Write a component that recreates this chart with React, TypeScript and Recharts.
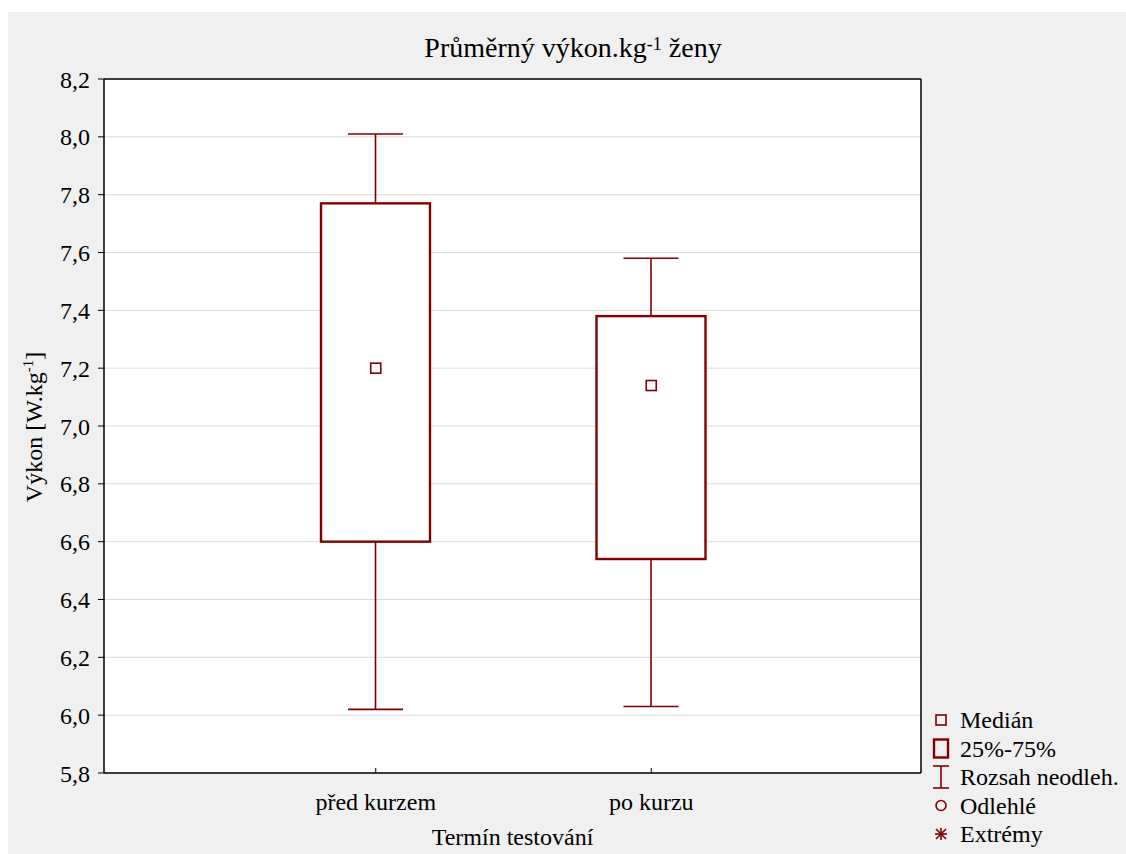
import React from 'react';
import { ComposedChart, Bar, Scatter, XAxis, YAxis, CartesianGrid } from 'recharts';

// Box plot data (per test term)
const terms = ['před kurzem', 'po kurzu'];
const mins = [6.02, 6.03];
const q1s = [6.6, 6.54];
const medians = [7.2, 7.14];
const q3s = [7.77, 7.38];
const maxs = [8.01, 7.58];

const yTicks = [5.8, 6.0, 6.2, 6.4, 6.6, 6.8, 7.0, 7.2, 7.4, 7.6, 7.8, 8.0, 8.2];
const legendLabels = ['Medián', '25%-75%', 'Rozsah neodleh.', 'Odlehlé', 'Extrémy'];

const RED = '#800000';
const FONT = '"Liberation Serif", "Times New Roman", serif';

const data = terms.map((term, i) => ({
  term,
  range: [mins[i], maxs[i]],
  box: [q1s[i], q3s[i]],
  median: medians[i],
}));

const fmt = (v: number) => v.toFixed(1).replace('.', ',');

// whisker: vertical line with caps at min and max
const Whisker = (props: any) => {
  const { x, y, width, height } = props;
  const top = Math.min(y, y + height);
  const bottom = Math.max(y, y + height);
  const cx = x + width / 2;
  return (
    <g stroke={RED} strokeWidth={1.6}>
      <line x1={cx} x2={cx} y1={top} y2={bottom} />
      <line x1={x} x2={x + width} y1={top} y2={top} />
      <line x1={x} x2={x + width} y1={bottom} y2={bottom} />
    </g>
  );
};

const Box = (props: any) => {
  const { x, y, width, height } = props;
  return (
    <rect
      x={x}
      y={Math.min(y, y + height)}
      width={width}
      height={Math.abs(height)}
      fill="#fff"
      stroke={RED}
      strokeWidth={2.4}
    />
  );
};

const MedianMark = (props: any) => {
  const { cx, cy } = props;
  return <rect x={cx - 5} y={cy - 5} width={10} height={10} fill="#fff" stroke={RED} strokeWidth={1.6} />;
};

const LegendIcon = ({ kind, cx, cy }: { kind: number; cx: number; cy: number }) => {
  if (kind === 0) return <rect x={cx - 5} y={cy - 5} width={10} height={10} fill="none" stroke={RED} strokeWidth={1.6} />;
  if (kind === 1) return <rect x={cx - 7} y={cy - 9} width={14} height={18} fill="none" stroke={RED} strokeWidth={2.4} />;
  if (kind === 2)
    return (
      <g stroke={RED} strokeWidth={1.6}>
        <line x1={cx} x2={cx} y1={cy - 11} y2={cy + 11} />
        <line x1={cx - 8} x2={cx + 8} y1={cy - 11} y2={cy - 11} />
        <line x1={cx - 8} x2={cx + 8} y1={cy + 11} y2={cy + 11} />
      </g>
    );
  if (kind === 3) return <circle cx={cx} cy={cy} r={5} fill="none" stroke={RED} strokeWidth={1.6} />;
  return (
    <g stroke={RED} strokeWidth={1.6}>
      <line x1={cx} x2={cx} y1={cy - 6} y2={cy + 6} />
      <line x1={cx - 6} x2={cx + 6} y1={cy} y2={cy} />
      <line x1={cx - 5} x2={cx + 5} y1={cy - 5} y2={cy + 5} />
      <line x1={cx - 5} x2={cx + 5} y1={cy + 5} y2={cy - 5} />
    </g>
  );
};

export default function App() {
  return (
    <div style={{ position: 'relative', width: 1126, height: 854, background: '#fff', fontFamily: FONT }}>
      <style>{'body{margin:0}'}</style>
      <div style={{ position: 'absolute', left: 8, top: 12, width: 1118, height: 842, background: '#f0f0f0' }}>
        <div
          style={{
            position: 'absolute',
            left: 0,
            width: 1130,
            top: 20,
            textAlign: 'center',
            fontSize: 28,
            color: '#000',
            lineHeight: '32px',
          }}
        >
          Průměrný výkon.kg<sup style={{ fontSize: 18, verticalAlign: 'top', position: 'relative', top: -4 }}>-1</sup> ženy
        </div>
        <ComposedChart
          width={1118}
          height={842}
          data={data}
          margin={{ top: 66, right: 205, bottom: 0, left: 0 }}
          style={{ fontFamily: FONT }}
        >
          <CartesianGrid
            xAxisId="main"
            yAxisId="left"
            vertical={false}
            stroke="#dcdcdc"
            fill="#fff"
            fillOpacity={1}
          />
          <XAxis
            xAxisId="main"
            dataKey="term"
            padding={{ left: 134, right: 132 }}
            height={81}
            axisLine={{ stroke: '#000', strokeWidth: 1.5 }}
            tickLine={{ stroke: '#000' }}
            tickSize={-5}
            tickMargin={25}
            tick={{ fill: '#000', fontSize: 24, fontFamily: FONT }}
            label={{
              content: (p: any) => {
                const vb = p.viewBox || {};
                return (
                  <text x={vb.x + vb.width / 2} y={vb.y + 72} textAnchor="middle" fontSize={24} fill="#000" fontFamily={FONT}>
                    Termín testování
                  </text>
                );
              },
            }}
          />
          <XAxis
            xAxisId="top"
            orientation="top"
            dataKey="term"
            padding={{ left: 134, right: 132 }}
            height={1}
            axisLine={{ stroke: '#000', strokeWidth: 1.5 }}
            tickLine={false}
            tick={false}
          />
          <YAxis
            yAxisId="left"
            type="number"
            domain={[5.8, 8.2]}
            ticks={yTicks}
            width={96}
            axisLine={{ stroke: '#000', strokeWidth: 1.5 }}
            tickLine={{ stroke: '#000' }}
            tickSize={6}
            tickMargin={8}
            tickFormatter={fmt}
            tick={{ fill: '#000', fontSize: 24, fontFamily: FONT }}
            label={{
              content: () => (
                <text x={34} y={415} transform="rotate(-90 34 415)" textAnchor="middle" fontSize={24} fill="#000" fontFamily={FONT}>
                  Výkon [W.kg<tspan fontSize={15} dy={-9}>-1</tspan>
                  <tspan dy={9}>]</tspan>
                </text>
              ),
            }}
          />
          <YAxis
            yAxisId="right"
            orientation="right"
            type="number"
            domain={[5.8, 8.2]}
            ticks={yTicks}
            width={1}
            mirror
            axisLine={{ stroke: '#000', strokeWidth: 1.5 }}
            tickLine={{ stroke: '#000' }}
            tickSize={5}
            tick={() => <g />}
          />
          <Bar
            xAxisId="top"
            yAxisId="left"
            dataKey="range"
            barSize={55}
            shape={<Whisker />}
            isAnimationActive={false}
          />
          <Bar
            xAxisId="main"
            yAxisId="left"
            dataKey="box"
            barSize={109}
            shape={<Box />}
            isAnimationActive={false}
          />
          <Scatter
            xAxisId="main"
            yAxisId="left"
            dataKey="median"
            shape={<MedianMark />}
            isAnimationActive={false}
          />
        </ComposedChart>
        <svg style={{ position: 'absolute', left: 912, top: 690 }} width={206} height={152}>
          {legendLabels.map((label, i) => {
            const cy = 18 + i * 28.5;
            return (
              <g key={label}>
                <LegendIcon kind={i} cx={21} cy={cy} />
                <text x={40} y={cy + 8} fontSize={24} fill="#000" fontFamily={FONT}>
                  {label}
                </text>
              </g>
            );
          })}
        </svg>
      </div>
    </div>
  );
}
